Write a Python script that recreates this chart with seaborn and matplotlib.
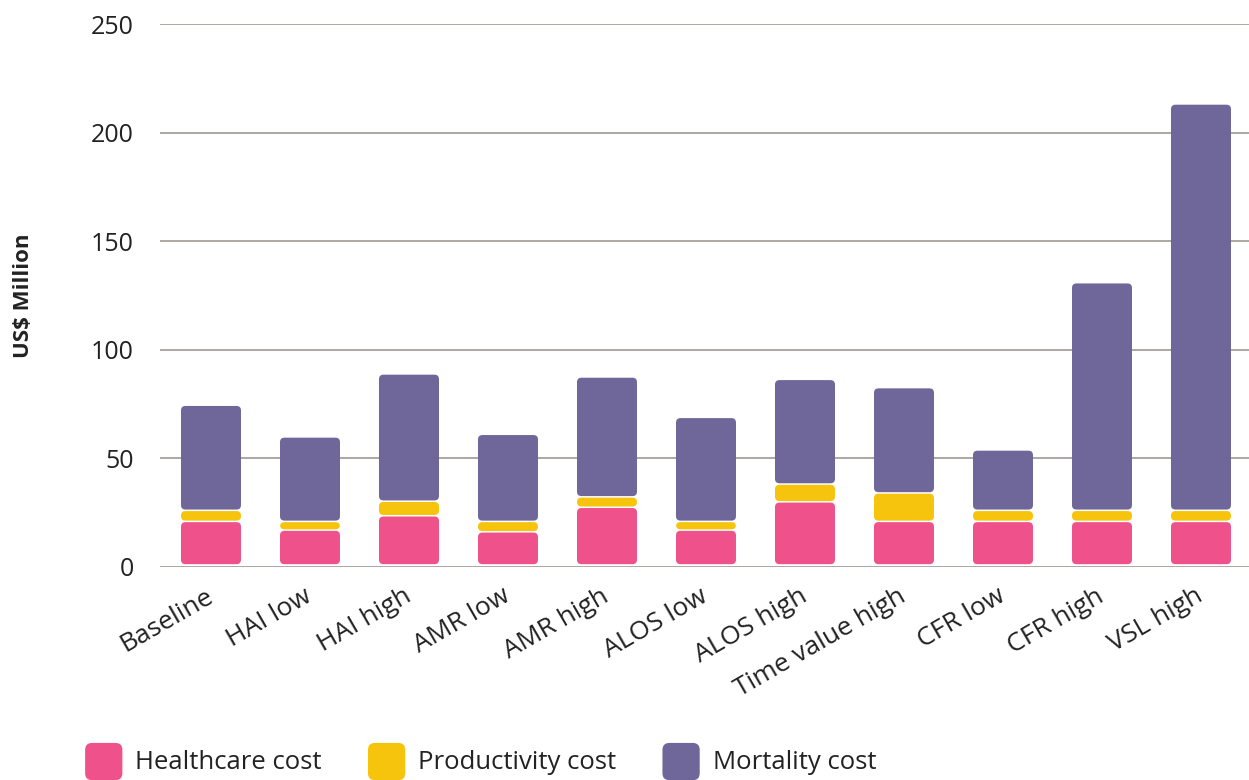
import matplotlib
matplotlib.use("Agg")
import matplotlib.pyplot as plt
import seaborn as sns
import pandas as pd
from matplotlib.patches import FancyBboxPatch, Patch
from matplotlib.legend_handler import HandlerPatch
from matplotlib.transforms import ScaledTranslation

# Datos (US$ millones)
escenarios = ["Baseline", "HAI low", "HAI high", "AMR low", "AMR high", "ALOS low",
              "ALOS high", "Time value high", "CFR low", "CFR high", "VSL high"]
healthcare = [21, 17, 23.6, 16.2, 27.5, 17, 30, 21, 21, 21, 21]
productivity = [5.1, 4, 6.7, 4.8, 4.8, 4, 8.2, 13.1, 5.1, 5.1, 5.1]
mortality = [48.4, 38.9, 58.6, 40.1, 55.2, 47.9, 48.2, 48.5, 27.8, 104.8, 187.1]
series = ["Healthcare cost", "Productivity cost", "Mortality cost"]

colores = ["#EF528B", "#F7C40D", "#6F6699"]
gris = "#ADA7A2"

sns.set_style("white")
plt.rcParams["font.family"] = ["Open Sans", "DejaVu Sans"]
plt.rcParams["text.color"] = "#222222"

fig = plt.figure(figsize=(12.49, 7.80), dpi=100)
left, bottom, width, height = 160 / 1249, 1 - 567 / 780, 1089 / 1249, 543 / 780
ax = fig.add_axes([left, bottom, width, height])

df = pd.DataFrame({"escenario": escenarios, series[0]: healthcare,
                   series[1]: productivity, series[2]: mortality})

for serie, color in zip(series, colores):
    sns.barplot(data=df, x="escenario", y=serie, color=color, width=0.606,
                ax=ax, saturation=1)

xlim = (-0.515, 10.485)
ylim = (0, 250)
ax.set_xlim(*xlim)
ax.set_ylim(*ylim)

# Bordes redondeados y separación entre segmentos
px_x = width * 1249 / (xlim[1] - xlim[0])
px_y = height * 780 / (ylim[1] - ylim[0])
aspecto = px_x / px_y
radio = 4.5 / px_x
hueco = 0.35
base = [0.0] * len(escenarios)
for k, cont in enumerate(ax.containers):
    for i, p in enumerate(cont.patches):
        h = p.get_height()
        y0 = base[i] + (1.3 if k == 0 else hueco)
        y1 = base[i] + h - hueco
        caja = FancyBboxPatch((p.get_x(), y0), p.get_width(), y1 - y0,
                              boxstyle=f"round,pad=0,rounding_size={radio}",
                              mutation_aspect=aspecto, facecolor=colores[k],
                              edgecolor="none", zorder=3)
        ax.add_patch(caja)
        p.remove()
        base[i] += h

ax.set_yticks([0, 50, 100, 150, 200, 250])
ax.yaxis.grid(True, color=gris, linewidth=1.4)
ax.set_axisbelow(True)
for s in ax.spines.values():
    s.set_visible(False)
ax.tick_params(axis="y", length=0, labelsize=18, labelcolor="#222222", pad=19)
ax.tick_params(axis="x", length=0, labelsize=19, labelcolor="#222222", pad=12)
ax.set_xlabel("")
ax.set_ylabel("US$ Million", fontsize=16, fontweight="bold", color="#222222")
ax.yaxis.set_label_coords(-0.1155, 0.5)
desplazar = ScaledTranslation(-0.06, 0, fig.dpi_scale_trans)
for t in ax.get_xticklabels():
    t.set_rotation(30)
    t.set_ha("right")
    t.set_va("top")
    t.set_rotation_mode("anchor")
    t.set_transform(t.get_transform() + desplazar)


class HandlerRedondo(HandlerPatch):
    def create_artists(self, legend, orig_handle, xdescent, ydescent, width, height, fontsize, trans):
        p = FancyBboxPatch((-xdescent, -ydescent - 6), width, width,
                           boxstyle="round,pad=0,rounding_size=5",
                           facecolor=orig_handle.get_facecolor(), edgecolor="none",
                           transform=trans)
        return [p]


handles = [Patch(facecolor=c, label=s) for s, c in zip(series, colores)]
fig.legend(handles=handles, loc="center left", bbox_to_anchor=(62 / 1249, 1 - 762 / 780),
           ncol=3, frameon=False, fontsize=18.5, handlelength=1.45, handleheight=1.0,
           handletextpad=0.5, columnspacing=1.8,
           handler_map={Patch: HandlerRedondo()})

plt.savefig("out.png", dpi=100)
plt.close()
